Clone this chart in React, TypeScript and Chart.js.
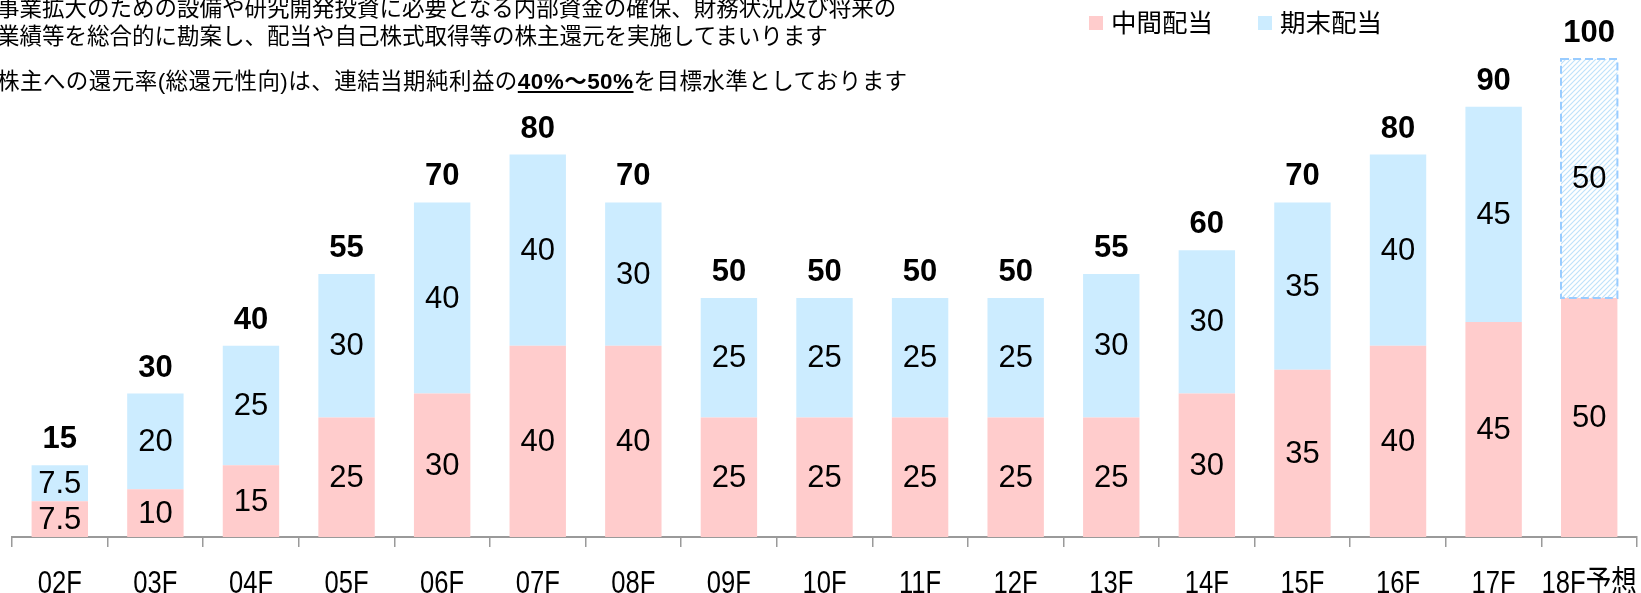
import React, { useEffect, useRef } from "react";
import { Chart, registerables } from "chart.js";

Chart.register(...registerables);

// ---- data ----
const categories = ["02F", "03F", "04F", "05F", "06F", "07F", "08F", "09F", "10F", "11F", "12F", "13F", "14F", "15F", "16F", "17F", "18F予想"];
const interimDividend = [7.5, 10, 15, 25, 30, 40, 40, 25, 25, 25, 25, 25, 30, 35, 40, 45, 50];
const yearEndDividend = [7.5, 20, 25, 30, 40, 40, 30, 25, 25, 25, 25, 30, 30, 35, 40, 45, 50];
const totalDividend = [15, 30, 40, 55, 70, 80, 70, 50, 50, 50, 50, 55, 60, 70, 80, 90, 100];
const forecastCategory = "18F予想";
const seriesNames = ["中間配当", "期末配当"];

const PINK = "#FFCCCC";
const BLUE = "#CCECFF";

function makeHatch(): CanvasPattern | string {
  const s = 5;
  const c = document.createElement("canvas");
  c.width = s;
  c.height = s;
  const g = c.getContext("2d");
  if (!g) return BLUE;
  g.fillStyle = "#ffffff";
  g.fillRect(0, 0, s, s);
  g.strokeStyle = "#bfe2fa";
  g.lineWidth = 1.2;
  g.beginPath();
  g.moveTo(0, s);
  g.lineTo(s, 0);
  g.moveTo(-1, 1);
  g.lineTo(1, -1);
  g.moveTo(s - 1, s + 1);
  g.lineTo(s + 1, s - 1);
  g.stroke();
  const p = g.createPattern(c, "repeat");
  return p || BLUE;
}

const labelPlugin = {
  id: "barLabels",
  afterDatasetsDraw(chart: any) {
    const ctx = chart.ctx as CanvasRenderingContext2D;
    ctx.save();
    // forecast dashed border
    const fIdx = categories.indexOf(forecastCategory);
    const metaTop = chart.getDatasetMeta(1);
    if (fIdx >= 0) {
      const el = metaTop.data[fIdx];
      const p = el.getProps(["x", "y", "base", "width"], true);
      ctx.setLineDash([8, 4]);
      ctx.strokeStyle = "#99CCFF";
      ctx.lineWidth = 2;
      ctx.strokeRect(p.x - p.width / 2, p.y, p.width, p.base - p.y);
      ctx.setLineDash([]);
    }
    // segment labels
    ctx.fillStyle = "#000";
    ctx.textAlign = "center";
    ctx.textBaseline = "middle";
    ctx.font = "31px 'Liberation Sans', Arial, sans-serif";
    chart.data.datasets.forEach((ds: any, di: number) => {
      const meta = chart.getDatasetMeta(di);
      meta.data.forEach((el: any, i: number) => {
        const p = el.getProps(["x", "y", "base"], true);
        ctx.fillText(String(ds.data[i]), p.x, (p.y + p.base) / 2 + 1);
      });
    });
    // totals
    ctx.font = "bold 31px 'Liberation Sans', Arial, sans-serif";
    ctx.textBaseline = "alphabetic";
    metaTop.data.forEach((el: any, i: number) => {
      const p = el.getProps(["x", "y"], true);
      ctx.fillText(String(totalDividend[i]), p.x, p.y - 17);
    });
    // category axis labels (condensed), positioned by the x scale
    const xs = chart.scales.x;
    ctx.font = "32px 'Liberation Sans', 'Noto Sans CJK JP', sans-serif";
    ctx.textAlign = "center";
    ctx.textBaseline = "alphabetic";
    const sx = 0.8;
    xs.ticks.forEach((t: any, i: number) => {
      const x = xs.getPixelForTick(i);
      const label = xs.getLabelForValue(t.value);
      ctx.save();
      ctx.translate(x, 593);
      ctx.scale(sx, 1);
      ctx.fillText(label, 0, 0);
      ctx.restore();
    });
    ctx.restore();
  },
};

export default function App() {
  const ref = useRef<HTMLCanvasElement | null>(null);

  useEffect(() => {
    if (!ref.current) return;
    const hatch = makeHatch();
    const chart = new Chart(ref.current, {
      type: "bar",
      data: {
        labels: categories,
        datasets: [
          {
            label: seriesNames[0],
            data: interimDividend,
            backgroundColor: PINK,
            borderWidth: 0,
            barPercentage: 0.59,
            categoryPercentage: 1,
          },
          {
            label: seriesNames[1],
            data: yearEndDividend,
            backgroundColor: categories.map((c) => (c === forecastCategory ? hatch : BLUE)) as any,
            borderWidth: 0,
            barPercentage: 0.59,
            categoryPercentage: 1,
          },
        ],
      },
      options: {
        animation: false,
        responsive: false,
        maintainAspectRatio: false,
        layout: { padding: { top: 59, left: 12, right: 4, bottom: 46 } },
        plugins: {
          legend: { display: false },
          tooltip: { enabled: false },
        },
        scales: {
          x: {
            stacked: true,
            grid: {
              display: true,
              drawOnChartArea: false,
              drawTicks: true,
              tickLength: 10,
              color: "#9a9a9a",
              lineWidth: 1.5,
              offset: true,
            },
            border: { display: true, color: "#9a9a9a", width: 2 },
            ticks: { display: false, autoSkip: false },
          },
          y: { stacked: true, display: false, min: 0, max: 100 },
        },
      },
      plugins: [labelPlugin],
    });
    return () => chart.destroy();
  }, []);

  const jp = "'Liberation Sans', 'Noto Sans CJK JP', sans-serif";
  const line: React.CSSProperties = {
    position: "absolute",
    left: -3,
    whiteSpace: "nowrap",
    fontFamily: jp,
    fontSize: 22.5,
    lineHeight: "26px",
    color: "#000",
  };
  const sq = (c: string): React.CSSProperties => ({
    position: "absolute",
    width: 14,
    height: 14,
    background: c,
    top: 16,
  });
  const legText: React.CSSProperties = {
    position: "absolute",
    top: 7,
    fontFamily: "'Noto Sans CJK JP', sans-serif",
    fontSize: 25.5,
    lineHeight: "28px",
    whiteSpace: "nowrap",
    color: "#000",
  };

  return (
    <div style={{ position: "fixed", left: 0, top: 0, width: 1641, height: 593, overflow: "hidden", background: "#fff" }}>
      <canvas ref={ref} width={1641} height={593} style={{ position: "absolute", left: 0, top: 0, width: 1641, height: 593 }} />
      <div style={{ ...line, top: -4 }}>事業拡大のための設備や研究開発投資に必要となる内部資金の確保、財務状況及び将来の</div>
      <div style={{ ...line, top: 24 }}>業績等を総合的に勘案し、配当や自己株式取得等の株主還元を実施してまいります</div>
      <div style={{ ...line, top: 69, letterSpacing: 0.45 }}>
        株主への還元率(総還元性向)は、連結当期純利益の
        <span style={{ fontWeight: "bold", textDecoration: "underline" }}>40%〜50%</span>
        を目標水準としております
      </div>
      <div style={{ ...sq(PINK), left: 1089 }} />
      <div style={{ ...legText, left: 1111 }}>{seriesNames[0]}</div>
      <div style={{ ...sq(BLUE), left: 1258 }} />
      <div style={{ ...legText, left: 1280 }}>{seriesNames[1]}</div>
    </div>
  );
}
